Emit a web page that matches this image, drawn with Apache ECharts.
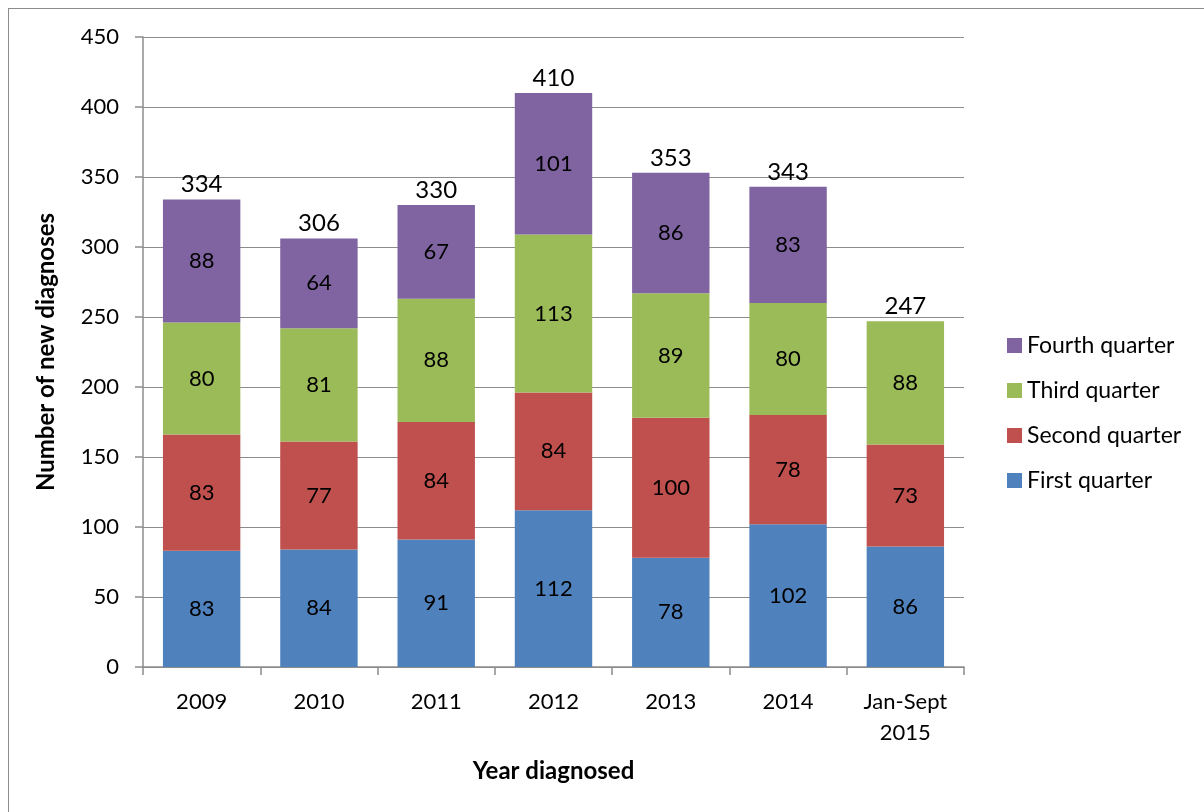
<!DOCTYPE html>
<html>
<head>
<meta charset="utf-8">
<script src="https://cdn.jsdelivr.net/npm/echarts@6/dist/echarts.min.js"></script>
<style>
  html, body { margin: 0; padding: 0; background: #fff; }
  #frame { position: absolute; left: 8px; top: 8px; width: 1220px; height: 830px; border: 1.5px solid #8c8c8c; box-sizing: border-box; }
  #chart { position: absolute; left: 0; top: 0; width: 1204px; height: 812px; }
</style>
</head>
<body>
<div id="frame"></div>
<div id="chart"></div>
<script>
// Year categories and quarterly counts of new diagnoses
const years = ['2009', '2010', '2011', '2012', '2013', '2014', 'Jan-Sept\n2015'];
const firstQuarter  = [83, 84, 91, 112, 78, 102, 86];
const secondQuarter = [83, 77, 84, 84, 100, 78, 73];
const thirdQuarter  = [80, 81, 88, 113, 89, 80, 88];
const fourthQuarter = [88, 64, 67, 101, 86, 83, null];
const yTicks = [0, 50, 100, 150, 200, 250, 300, 350, 400, 450];

// Yearly totals shown above each stack
const totals = years.map((_, i) =>
  [firstQuarter, secondQuarter, thirdQuarter, fourthQuarter]
    .reduce((s, arr) => s + (arr[i] || 0), 0));

const FONT = 'Lato, "Open Sans", sans-serif';

function stackSeries(name, data, color) {
  return {
    name: name,
    type: 'bar',
    stack: 'total',
    barWidth: '66%',
    data: data,
    itemStyle: { color: color },
    label: {
      show: true,
      position: 'inside',
      color: '#000',
      fontFamily: FONT,
      fontSize: 22
    }
  };
}

const chart = echarts.init(document.getElementById('chart'), null, { renderer: 'canvas' });
chart.setOption({
  animation: false,
  backgroundColor: 'transparent',
  textStyle: { fontFamily: FONT },
  grid: { left: 143, right: 240, top: 37, bottom: 145 },
  legend: {
    orient: 'vertical',
    left: 1002,
    top: 329,
    itemGap: 22,
    itemWidth: 15,
    itemHeight: 15,
    icon: 'rect',
    data: ['Fourth quarter', 'Third quarter', 'Second quarter', 'First quarter'],
    textStyle: { fontFamily: FONT, fontSize: 23, color: '#000' }
  },
  xAxis: {
    type: 'category',
    data: years,
    name: 'Year diagnosed',
    nameLocation: 'middle',
    nameGap: 92,
    nameTextStyle: { fontFamily: FONT, fontSize: 24, fontWeight: 'bold', color: '#000' },
    axisLine: { show: true, lineStyle: { color: '#8c8c8c', width: 1.5 } },
    axisTick: { show: true, length: 8, alignWithLabel: false, lineStyle: { color: '#8c8c8c', width: 1.5 } },
    axisLabel: { fontFamily: FONT, fontSize: 22, color: '#000', margin: 19, lineHeight: 31 }
  },
  yAxis: {
    type: 'value',
    min: 0,
    max: 450,
    interval: 50,
    name: 'Number of new diagnoses',
    nameLocation: 'middle',
    nameGap: 85,
    nameRotate: 90,
    nameTextStyle: { fontFamily: FONT, fontSize: 24, fontWeight: 'bold', color: '#000' },
    axisLine: { show: true, lineStyle: { color: '#8c8c8c', width: 1.5 } },
    axisTick: { show: true, length: 8, inside: false, lineStyle: { color: '#8c8c8c', width: 1.5 } },
    axisLabel: {
      fontFamily: FONT, fontSize: 22, color: '#000', margin: 24,
      formatter: v => (yTicks.indexOf(v) >= 0 ? String(v) : '')
    },
    splitLine: { show: true, lineStyle: { color: '#8c8c8c', width: 1.2 } }
  },
  series: [
    stackSeries('First quarter', firstQuarter, '#4F81BD'),
    stackSeries('Second quarter', secondQuarter, '#C0504D'),
    stackSeries('Third quarter', thirdQuarter, '#9BBB59'),
    stackSeries('Fourth quarter', fourthQuarter, '#8064A2'),
    {
      name: 'Total',
      type: 'scatter',
      data: totals,
      symbol: 'circle',
      symbolSize: 2,
      itemStyle: { color: 'rgba(0,0,0,0)' },
      silent: true,
      z: 10,
      labelLayout: { hideOverlap: false },
      label: {
        show: true,
        position: 'top',
        distance: 2,
        color: '#000',
        opacity: 1,
        fontFamily: FONT,
        fontSize: 24
      }
    }
  ]
});
</script>
</body>
</html>
